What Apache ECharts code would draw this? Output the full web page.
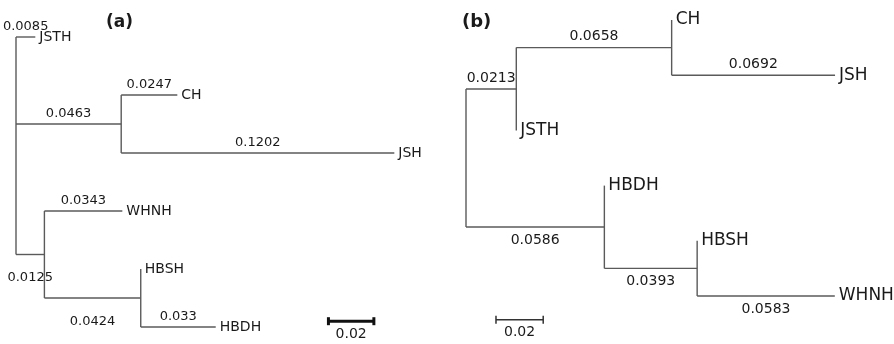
<!DOCTYPE html>
<html>
<head>
<meta charset="utf-8">
<script src="https://cdn.jsdelivr.net/npm/echarts@6/dist/echarts.min.js"></script>
<style>
  html, body { margin: 0; padding: 0; background: #fff; }
  #chart { width: 894px; height: 344px; }
</style>
</head>
<body>
<div id="chart"></div>
<script>
// ── Data ──
// tree (a): each branch = child name, parent name, branch length
const namesA   = ['JSTH', 'n1', 'CH', 'JSH', 'n2', 'WHNH', 'n3', 'HBSH', 'HBDH'];
const parentsA = ['root', 'root', 'n1', 'n1', 'root', 'n2', 'n2', 'n3', 'n3'];
const lengthsA = [0.0085, 0.0463, 0.0247, 0.1202, 0.0125, 0.0343, 0.0424, 0, 0.033];
const leavesA  = ['JSTH', 'CH', 'JSH', 'WHNH', 'HBSH', 'HBDH'];   // top to bottom
const belowA   = ['n2', 'n3'];                                     // lengths printed under the branch

// tree (b)
const namesB   = ['n1', 'n2', 'CH', 'JSH', 'JSTH', 'n3', 'HBDH', 'n4', 'HBSH', 'WHNH'];
const parentsB = ['root', 'n1', 'n2', 'n2', 'n1', 'root', 'n3', 'n3', 'n4', 'n4'];
const lengthsB = [0.0213, 0.0658, 0, 0.0692, 0, 0.0586, 0, 0.0393, 0, 0.0583];
const leavesB  = ['CH', 'JSH', 'JSTH', 'HBDH', 'HBSH', 'WHNH'];
const belowB   = ['n3', 'n4', 'WHNH'];

const scaleLength = 0.02;
const scaleLabel = '0.02';

// ── Layout ──

function layoutTree(names, parents, lengths, leaves, below) {
  const x = { root: 0 };
  const y = {};
  const kids = { root: [] };
  names.forEach((n, i) => {
    x[n] = x[parents[i]] + lengths[i];
    (kids[parents[i]] = kids[parents[i]] || []).push(n);
  });
  leaves.forEach((n, i) => { y[n] = i; });
  function yOf(n) {
    if (y[n] != null) return y[n];
    const c = kids[n].map(yOf);
    y[n] = (Math.min(...c) + Math.max(...c)) / 2;
    return y[n];
  }
  yOf('root');

  const segs = [];
  const texts = [];
  Object.keys(kids).forEach(p => {
    const c = kids[p].map(k => y[k]);
    segs.push([x[p], Math.min(...c), x[p], Math.max(...c)]);
  });
  names.forEach((n, i) => {
    const p = parents[i];
    if (lengths[i] > 0) {
      segs.push([x[p], y[n], x[n], y[n]]);
      texts.push({ x: (x[p] + x[n]) / 2, y: y[n], text: String(lengths[i]),
                   kind: below.includes(n) ? 'below' : 'above' });
    }
    if (leaves.includes(n)) texts.push({ x: x[n], y: y[n], text: n, kind: 'leaf' });
  });
  return { segs, texts };
}

const treeA = layoutTree(namesA, parentsA, lengthsA, leavesA, belowA);
const treeB = layoutTree(namesB, parentsB, lengthsB, leavesB, belowB);

// ── Chart ──

const LINE = '#5a5a5a';
const INK = '#1a1a1a';

function segSeries(idx, segs) {
  return {
    type: 'custom', xAxisIndex: idx, yAxisIndex: idx, silent: true,
    data: segs,
    renderItem: (params, api) => {
      const a = api.coord([api.value(0), api.value(1)]);
      const b = api.coord([api.value(2), api.value(3)]);
      return {
        type: 'line',
        shape: { x1: a[0], y1: a[1], x2: b[0], y2: b[1] },
        style: { stroke: LINE, lineWidth: 1.4 },
      };
    },
  };
}

function textSeries(idx, texts, numSize, leafSize, font) {
  return {
    type: 'custom', xAxisIndex: idx, yAxisIndex: idx, silent: true,
    data: texts.map(t => [t.x, t.y]),
    renderItem: (params, api) => {
      const t = texts[params.dataIndex];
      const p = api.coord([t.x, t.y]);
      let style;
      if (t.kind === 'leaf') {
        style = { x: p[0] + 4, y: p[1], align: 'left', verticalAlign: 'middle',
                  font: leafSize + 'px ' + font };
      } else if (t.kind === 'above') {
        style = { x: p[0], y: p[1] - 4, align: 'center', verticalAlign: 'bottom',
                  font: numSize + 'px ' + font };
      } else {
        style = { x: p[0], y: p[1] + (idx === 0 ? 17 : 6), align: 'center', verticalAlign: 'top',
                  font: numSize + 'px ' + font };
      }
      style.text = t.text;
      style.fill = INK;
      return { type: 'text', style };
    },
  };
}

function scaleSeries(idx, startX, row, width, cap, color) {
  return {
    type: 'custom', xAxisIndex: idx, yAxisIndex: idx, silent: true,
    data: [[startX, row]],
    renderItem: (params, api) => {
      const a = api.coord([api.value(0), api.value(1)]);
      const b = api.coord([api.value(0) + scaleLength, api.value(1)]);
      const st = { stroke: color, lineWidth: width };
      return {
        type: 'group',
        children: [
          { type: 'line', shape: { x1: a[0], y1: a[1], x2: b[0], y2: b[1] }, style: st },
          { type: 'line', shape: { x1: a[0], y1: a[1] - cap, x2: a[0], y2: a[1] + cap }, style: st },
          { type: 'line', shape: { x1: b[0], y1: b[1] - cap, x2: b[0], y2: b[1] + cap }, style: st },
          { type: 'text', style: { x: (a[0] + b[0]) / 2, y: a[1] + 6, text: scaleLabel,
              align: 'center', verticalAlign: 'top', fill: INK, font: '14px "DejaVu Sans"' } },
        ],
      };
    },
  };
}

const chart = echarts.init(document.getElementById('chart'), null, { renderer: 'canvas' });

const hiddenX = (max) => ({ type: 'value', min: 0, max, show: false });
const hiddenY = { type: 'value', min: 0, max: 5, inverse: true, show: false };

chart.setOption({
  animation: false,
  backgroundColor: '#fff',
  title: [
    { text: '(a)', left: 101, top: 9,
      textStyle: { fontSize: 17, fontWeight: 'bold', color: INK, fontFamily: 'DejaVu Sans' } },
    { text: '(b)', left: 457, top: 8,
      textStyle: { fontSize: 18, fontWeight: 'bold', color: INK, fontFamily: 'DejaVu Sans' } },
  ],
  grid: [
    { left: 16, top: 37, width: 409, height: 290 },
    { left: 466, top: 20, width: 425, height: 276 },
  ],
  xAxis: [
    { ...hiddenX(0.18), gridIndex: 0 },
    { ...hiddenX(0.18), gridIndex: 1 },
  ],
  yAxis: [
    { ...hiddenY, gridIndex: 0 },
    { ...hiddenY, gridIndex: 1 },
  ],
  series: [
    segSeries(0, treeA.segs),
    textSeries(0, treeA.texts, 13, 14, '"DejaVu Sans"'),
    scaleSeries(0, 0.1375, 4.9, 3, 4, '#111'),
    segSeries(1, treeB.segs),
    textSeries(1, treeB.texts, 14, 17, '"DejaVu Sans"'),
    scaleSeries(1, 0.0127, 5.43, 1.5, 4, '#333'),
  ],
});
</script>
</body>
</html>
